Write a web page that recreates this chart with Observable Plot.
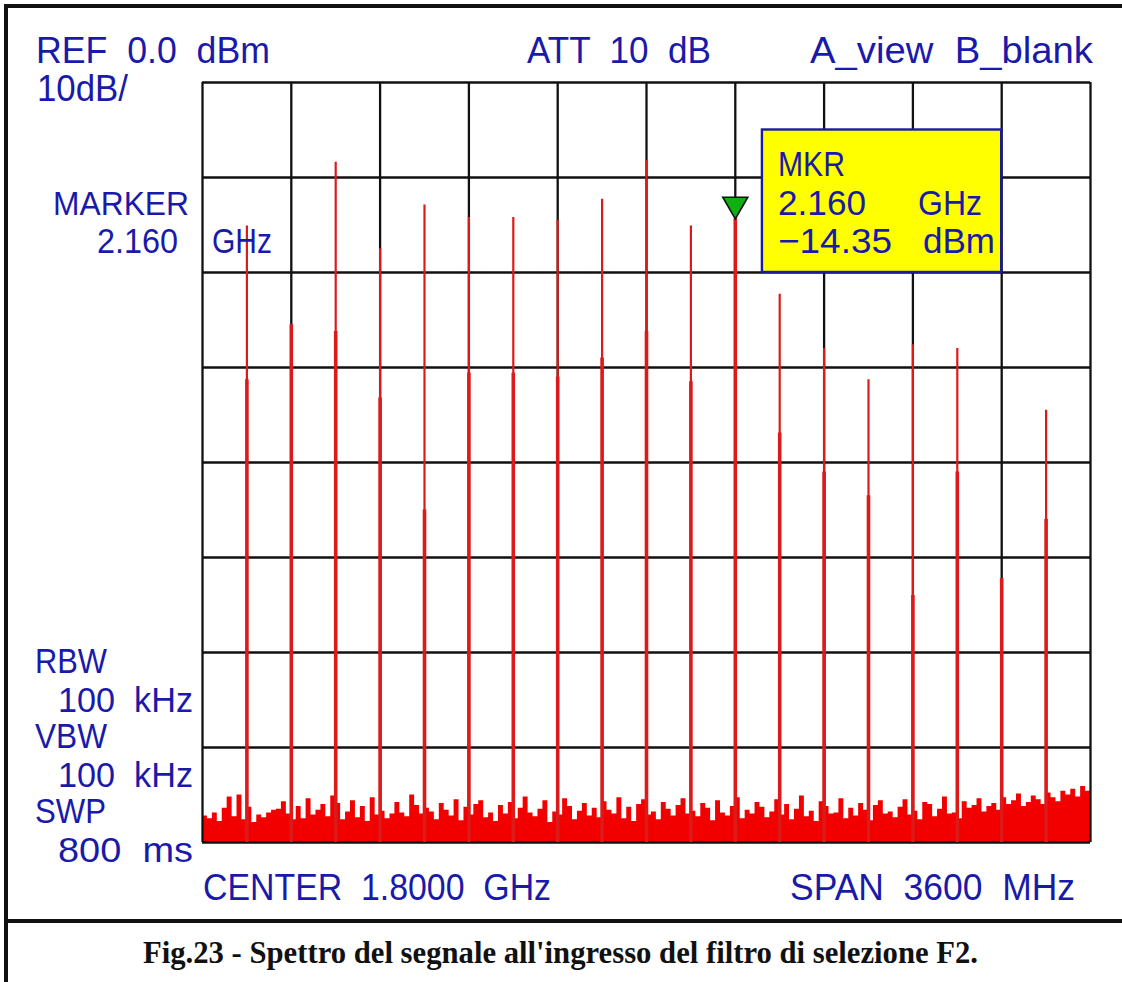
<!DOCTYPE html>
<html>
<head>
<meta charset="utf-8">
<script src="https://cdn.jsdelivr.net/npm/d3@7"></script>
<script src="https://cdn.jsdelivr.net/npm/@observablehq/plot@0.6"></script>
<style>
  html, body { margin: 0; padding: 0; background: #fff; }
  #chart { position: relative; width: 1122px; height: 982px; background: #fff; overflow: hidden; }
  #chart > svg { position: absolute; left: 0; top: 0; }
</style>
</head>
<body>
<div id="chart"></div>
<script>
// ---------------- DATA ----------------
// spectral lines (GHz) and their peak levels (dBm)
const lineFreqs = [0.18, 0.36, 0.54, 0.72, 0.90, 1.08, 1.26, 1.44, 1.62, 1.80,
                   1.98, 2.16, 2.34, 2.52, 2.70, 2.88, 3.06, 3.24, 3.42];
const linePeaks = [-15.1, -25.5, -8.4, -17.5, -12.9, -14.2, -14.2, -14.5, -12.3, -8.2,
                   -15.1, -14.35, -22.3, -28.0, -31.3, -27.6, -28.0, -52.2, -34.5];
// level where each line's trace becomes wider (dBm)
const lineShoulders = [-31.3, -25.5, -26.2, -33.2, -45.0, -30.6, -30.6, -31.0, -29.0, -26.2,
                       -31.5, -14.35, -36.9, -41.0, -43.5, -54.0, -41.0, -52.2, -46.0];
// noise floor trace (dBm), one value every 20 MHz from 0 to 3.6 GHz
const noiseStep = 0.02;
const noiseLevels = [
  -77.2,-77.5,-76.9,-77.8,-76.4,-75.2,-77.3,-75.0,-77.6,-76.3,-77.9,-77.1,-77.4,-76.9,-76.6,-76.5,-75.7,-77.0,-77.6,-76.2,
  -77.5,-75.4,-77.1,-76.6,-76.0,-77.3,-75.1,-75.9,-77.6,-76.8,-75.6,-77.4,-76.2,-77.8,-75.3,-77.1,-76.7,-77.5,-77.0,-75.8,
  -76.9,-77.3,-75.0,-76.1,-77.0,-76.4,-76.8,-77.6,-75.9,-76.6,-77.2,-75.5,-77.7,-76.3,-77.1,-76.0,-75.6,-77.4,-76.9,-77.8,
  -76.1,-77.0,-75.8,-77.5,-76.4,-75.2,-76.9,-77.3,-76.5,-75.6,-77.9,-76.8,-77.1,-75.4,-76.2,-77.6,-76.7,-75.9,-77.2,-76.4,
  -77.4,-75.7,-76.6,-77.0,-75.3,-77.5,-76.3,-77.8,-76.0,-75.5,-77.1,-76.8,-77.6,-75.8,-76.5,-77.2,-76.1,-75.4,-77.0,-76.7,
  -77.3,-75.9,-76.4,-77.7,-75.6,-76.9,-77.2,-76.2,-75.3,-77.5,-76.6,-77.0,-75.8,-76.3,-77.4,-76.8,-75.5,-77.1,-76.0,-77.6,
  -76.5,-75.1,-77.3,-76.7,-77.8,-75.7,-76.2,-77.0,-76.9,-75.4,-77.5,-76.4,-77.2,-75.9,-76.6,-77.7,-76.1,-75.6,-77.0,-76.8,
  -77.4,-76.3,-75.5,-77.1,-76.7,-77.6,-75.8,-76.0,-77.3,-76.5,-75.2,-77.0,-76.9,-77.5,-75.7,-76.4,-76.1,-75.4,-76.8,-76.2,
  -75.9,-76.6,-75.3,-76.0,-75.6,-74.9,-76.2,-75.8,-75.1,-75.5,-76.0,-74.8,-75.3,-75.7,-74.6,-75.0,-74.4,-75.2,-74.1,-74.6,-74.6
];
// grid divisions
const freqTicks = [0, 0.36, 0.72, 1.08, 1.44, 1.80, 2.16, 2.52, 2.88, 3.24, 3.60];
const levelTicks = [0, -10, -20, -30, -40, -50, -60, -70, -80];
// marker
const markerFreq = 2.16;
const markerLevel = -14.35;
// texts
const headerLabels = ["REF  0.0  dBm", "10dB/", "ATT  10  dB", "A_view  B_blank"];
const sideLabels = ["MARKER", "2.160", "GHz", "RBW", "100  kHz", "VBW", "100  kHz", "SWP", "800  ms"];
const footerLabels = ["CENTER  1.8000  GHz", "SPAN  3600  MHz"];
const markerBoxLabels = ["MKR", "2.160", "GHz", "\u221214.35", "dBm"];
const captionText = "Fig.23 - Spettro del segnale all'ingresso del filtro di selezione F2.";

// ---------------- CHART ----------------
const RED_LINE = "#dc1a1a";
const RED_FILL = "#f20000";
const BLUE = "#1a1aaa";
const GRID = "#111111";

const noiseData = noiseLevels.map((v, i) => ({f: i * noiseStep, v}));
const lines = lineFreqs.map((f, i) => ({f, peak: linePeaks[i], shoulder: lineShoulders[i]}));

const downTriangle = {
  draw(ctx, size) {
    const h = Math.sqrt(size / (3 * Math.sqrt(3)));
    ctx.moveTo(0, 2 * h);
    ctx.lineTo(-Math.sqrt(3) * h, -h);
    ctx.lineTo(Math.sqrt(3) * h, -h);
    ctx.closePath();
  }
};

const chart = Plot.plot({
  width: 1122,
  height: 925,
  marginLeft: 202,
  marginRight: 32,
  marginTop: 82,
  marginBottom: 83,
  style: {background: "transparent", overflow: "visible"},
  x: {domain: [0, 3.6], axis: null},
  y: {domain: [-80, 0], axis: null},
  marks: [
    Plot.areaY(noiseData, {x: "f", y1: () => -80, y2: "v", curve: "step-after", fill: RED_FILL}),
    Plot.ruleX(freqTicks, {x: d => d, stroke: GRID, strokeWidth: 2.3}),
    Plot.ruleY(levelTicks, {y: d => d, stroke: GRID, strokeWidth: 2.3}),
    Plot.ruleX(lines, {x: "f", y1: () => -80, y2: "peak", stroke: RED_LINE, strokeWidth: 2.2}),
    Plot.ruleX(lines, {x: "f", y1: () => -80, y2: "shoulder", stroke: RED_LINE, strokeWidth: 3.6}),
    Plot.rect([{x1: 2.27, x2: 3.24, y1: -5, y2: -20}], {x1: "x1", x2: "x2", y1: "y1", y2: "y2", fill: "#ffff00", stroke: BLUE, strokeWidth: 2.4}),
    Plot.dot([{f: markerFreq, v: markerLevel}], {x: "f", y: "v", symbol: downTriangle, r: 9.3, dy: -14.4, fill: "#10b010", stroke: "#111", strokeWidth: 1.6})
  ]
});
const host = document.getElementById("chart");
host.appendChild(chart);

// ---------------- TEXT OVERLAY ----------------
const ov = d3.select(host).append("svg")
  .attr("width", 1122).attr("height", 982)
  .style("pointer-events", "none");

// page frame
ov.append("rect").attr("x", 4).attr("y", 4).attr("width", 1118).attr("height", 4).attr("fill", GRID);
ov.append("rect").attr("x", 4).attr("y", 4).attr("width", 4).attr("height", 978).attr("fill", GRID);
ov.append("rect").attr("x", 4).attr("y", 919).attr("width", 1118).attr("height", 4).attr("fill", GRID);

function label(text, x0, x1, baseline, size = 37) {
  ov.append("text")
    .attr("x", x0).attr("y", baseline)
    .attr("textLength", x1 - x0).attr("lengthAdjust", "spacingAndGlyphs")
    .attr("font-family", "'Liberation Sans', Arial, sans-serif")
    .attr("font-size", size)
    .attr("fill", BLUE)
    .style("white-space", "pre")
    .attr("xml:space", "preserve")
    .text(text);
}
// header
const headerLayout = [[36, 270, 63], [37, 128, 101], [527, 711, 63], [810, 1093, 63]];
headerLabels.forEach((t, i) => label(t, ...headerLayout[i]));
// side panel
const sideLayout = [[53, 189, 215, 34], [97, 178, 253, 35], [212, 272, 253, 35],
                    [35, 107, 673, 35], [58, 193, 712, 35], [35, 107, 748, 35], [58, 193, 787, 35],
                    [35, 106, 823, 35], [58, 193, 862, 35]];
sideLabels.forEach((t, i) => label(t, ...sideLayout[i]));
// footer
const footerLayout = [[203, 551, 900], [790, 1075, 900]];
footerLabels.forEach((t, i) => label(t, ...footerLayout[i]));
// marker box
const boxLayout = [[778, 845, 176, 35], [778, 866, 215, 35], [918, 982, 215, 35], [778, 892, 253, 35], [923, 995, 253, 35]];
markerBoxLabels.forEach((t, i) => label(t, ...boxLayout[i]));
// caption
ov.append("text")
  .attr("x", 560.5).attr("y", 963)
  .attr("text-anchor", "middle")
  .attr("textLength", 835).attr("lengthAdjust", "spacingAndGlyphs")
  .attr("font-family", "'Liberation Serif', 'Times New Roman', serif")
  .attr("font-weight", "bold")
  .attr("font-size", 32)
  .attr("fill", "#111")
  .text(captionText);
</script>
</body>
</html>
